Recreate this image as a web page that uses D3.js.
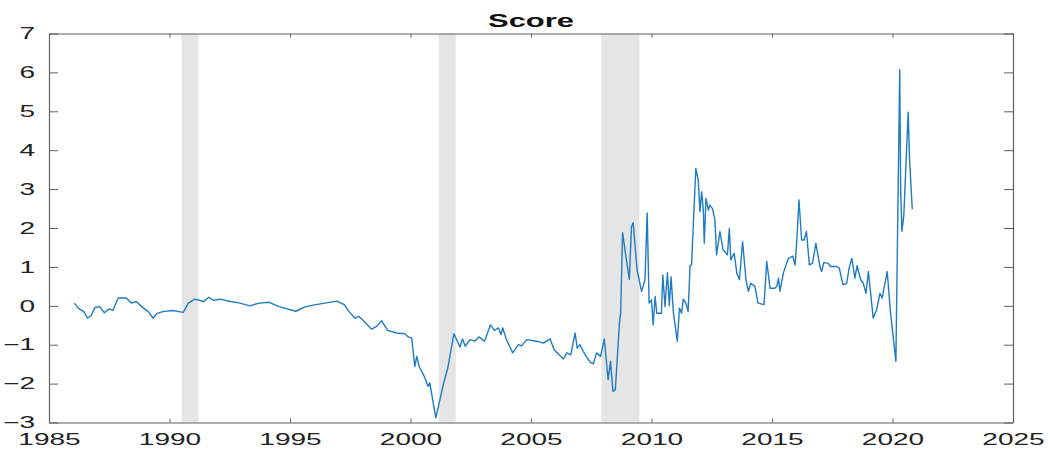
<!DOCTYPE html>
<html>
<head>
<meta charset="utf-8">
<script src="https://cdn.jsdelivr.net/npm/d3@7"></script>
<style>
  html, body { margin: 0; padding: 0; background: #fff; }
  svg { display: block; font-family: "Liberation Sans", Arial, sans-serif; }
</style>
</head>
<body>
<svg id="chart" width="1050" height="450"></svg>
<script>
// ---- data ------------------------------------------------------------------
const years = [
  1986.05, 1986.25, 1986.45, 1986.6, 1986.75, 1986.9, 1987.1, 1987.3, 1987.5, 1987.65,
  1987.87, 1988.2, 1988.42, 1988.62, 1988.92, 1989.12, 1989.32, 1989.47, 1989.72, 1990.12,
  1990.57, 1990.78, 1991.05, 1991.43, 1991.63, 1991.83, 1992.1, 1992.53, 1992.93, 1993.33,
  1993.73, 1994.14, 1994.54, 1995.24, 1995.64, 1996.25, 1996.95, 1997.05, 1997.25, 1997.45,
  1997.7, 1997.85, 1998.15, 1998.38, 1998.6, 1998.8, 1999.05, 1999.42, 1999.76, 1999.91,
  2000.05, 2000.18, 2000.26, 2000.36, 2000.56, 2000.73, 2000.8, 2001.05, 2001.36, 2001.56,
  2001.8, 2002.05, 2002.16, 2002.27, 2002.47, 2002.67, 2002.84, 2003.07, 2003.32, 2003.48,
  2003.65, 2003.75, 2003.83, 2003.98, 2004.24, 2004.48, 2004.61, 2004.82, 2005.24, 2005.52,
  2005.79, 2005.96, 2006.34, 2006.49, 2006.65, 2006.83, 2006.92, 2007.03, 2007.17, 2007.29,
  2007.45, 2007.59, 2007.72, 2007.89, 2008.04, 2008.2, 2008.3, 2008.4, 2008.5, 2008.67,
  2008.72, 2008.8, 2008.94, 2009.08, 2009.17, 2009.24, 2009.4, 2009.59, 2009.73, 2009.82,
  2009.9, 2010.0, 2010.07, 2010.15, 2010.22, 2010.41, 2010.47, 2010.56, 2010.66, 2010.74,
  2010.81, 2010.91, 2011.07, 2011.16, 2011.25, 2011.32, 2011.43, 2011.52, 2011.6, 2011.66,
  2011.84, 2011.94, 2012.01, 2012.08, 2012.15, 2012.19, 2012.26, 2012.36, 2012.42, 2012.53,
  2012.63, 2012.7, 2012.84, 2012.97, 2013.15, 2013.23, 2013.29, 2013.43, 2013.54, 2013.65,
  2013.78, 2013.92, 2014.02, 2014.12, 2014.29, 2014.42, 2014.67, 2014.78, 2014.92, 2015.12,
  2015.2, 2015.27, 2015.33, 2015.47, 2015.68, 2015.86, 2015.96, 2016.03, 2016.12, 2016.23,
  2016.33, 2016.43, 2016.55, 2016.68, 2016.82, 2016.99, 2017.06, 2017.15, 2017.33, 2017.43,
  2017.68, 2017.79, 2017.95, 2018.1, 2018.2, 2018.31, 2018.44, 2018.53, 2018.68, 2018.79,
  2018.9, 2019.0, 2019.2, 2019.34, 2019.48, 2019.57, 2019.78, 2019.92, 2020.14, 2020.3,
  2020.34, 2020.39, 2020.47, 2020.65, 2020.71, 2020.82
];
const score = [
  0.07, -0.08, -0.15, -0.32, -0.25, -0.05, -0.02, -0.18, -0.08, -0.12,
  0.2, 0.2, 0.07, 0.11, -0.06, -0.15, -0.32, -0.2, -0.15, -0.12,
  -0.17, 0.07, 0.17, 0.11, 0.22, 0.14, 0.17, 0.11, 0.07, 0.0,
  0.07, 0.09, -0.02, -0.14, -0.02, 0.05, 0.12, 0.09, 0.03, -0.15,
  -0.32, -0.27, -0.45, -0.6, -0.53, -0.38, -0.63, -0.7, -0.72, -0.8,
  -0.83, -1.56, -1.3, -1.56, -1.8, -2.07, -1.98, -2.88, -2.03, -1.56,
  -0.72, -1.06, -0.85, -1.04, -0.87, -0.91, -0.8, -0.91, -0.49, -0.63,
  -0.57, -0.74, -0.57, -0.87, -1.21, -1.0, -1.03, -0.87, -0.91, -0.96,
  -0.85, -1.13, -1.37, -1.21, -1.26, -0.7, -1.09, -1.0, -1.17, -1.3,
  -1.45, -1.49, -1.21, -1.3, -0.85, -1.9, -1.43, -2.2, -2.15, -0.44,
  -0.19, 1.88, 1.26, 0.68, 2.03, 2.14, 0.92, 0.37, 0.67, 2.39,
  0.07, 0.15, -0.49, 0.24, -0.19, -0.19, 0.79, -0.02, 0.85, 0.0,
  0.75, -0.19, -0.91, -0.06, -0.19, 0.17, 0.07, -0.15, 1.03, 1.05,
  3.53, 3.23, 2.42, 2.93, 2.46, 1.61, 2.76, 2.46, 2.59, 2.5,
  2.21, 1.31, 1.91, 1.44, 1.31, 1.99, 1.18, 1.35, 0.84, 0.67,
  1.65, 0.67, 0.37, 0.58, 0.5, 0.07, 0.03, 1.14, 0.45, 0.45,
  0.5, 0.71, 0.37, 0.84, 1.22, 1.28, 1.05, 1.69, 2.72, 1.69,
  1.69, 1.91, 1.05, 1.09, 1.61, 1.01, 0.88, 1.11, 1.09, 1.01,
  1.01, 0.97, 0.54, 0.58, 0.97, 1.22, 0.71, 1.03, 0.67, 0.58,
  0.32, 0.88, -0.32, -0.1, 0.32, 0.2, 0.88, -0.19, -1.43, 6.07,
  3.0, 1.91, 2.33, 4.98, 3.74, 2.48
];
// recession bands [start, end]
const recessions = [[1990.5, 1991.2], [2001.17, 2001.88], [2007.92, 2009.5]];
const xTicks = [1985, 1990, 1995, 2000, 2005, 2010, 2015, 2020, 2025];
const yTicks = [-3, -2, -1, 0, 1, 2, 3, 4, 5, 6, 7];
const title = 'Score';

// ---- layout ----------------------------------------------------------------
const plotL = 49, plotR = 1013, plotT = 33.5, plotB = 422.5;
const stretch = 1.72;   // the reference is squeezed wide, text included
const svg = d3.select('#chart');

const x = d3.scaleLinear().domain([1985, 2025]).range([plotL, plotR]);
const y = d3.scaleLinear().domain([-3, 7]).range([plotB, plotT]);

// shaded recessions
svg.append('g').selectAll('rect').data(recessions).join('rect')
  .attr('x', d => x(d[0]))
  .attr('width', d => x(d[1]) - x(d[0]))
  .attr('y', plotT)
  .attr('height', plotB - plotT)
  .attr('fill', '#e5e5e5');

// series line
const pts = years.map((t, i) => [t, score[i]]);
svg.append('path')
  .datum(pts)
  .attr('fill', 'none')
  .attr('stroke', '#1f7cc4')
  .attr('stroke-width', 1.4)
  .attr('stroke-linejoin', 'round')
  .attr('d', d3.line().x(d => x(d[0])).y(d => y(d[1])));

// ---- axes (box, inward ticks) ---------------------------------------------
function styleAxis(g) {
  g.selectAll('.domain').attr('stroke', '#5f5f5f').attr('stroke-width', 1.2);
  g.selectAll('.tick line').attr('stroke', '#5f5f5f').attr('stroke-width', 1);
  g.selectAll('.tick text').attr('fill', '#222').attr('font-size', 16.3)
    .attr('font-family', '"Liberation Sans", Arial, sans-serif');
}

const gx = svg.append('g').attr('transform', `translate(0,${plotB})`)
  .call(d3.axisBottom(x).tickValues(xTicks).tickFormat(d3.format('d'))
    .tickSize(-4).tickSizeOuter(0).tickPadding(10.5));
styleAxis(gx);
gx.selectAll('.tick text').attr('transform', `scale(${stretch},1)`);

const gy = svg.append('g').attr('transform', `translate(${plotL},0)`)
  .call(d3.axisLeft(y).tickValues(yTicks).tickSize(-9).tickSizeOuter(0));
styleAxis(gy);
gy.selectAll('.tick text')
  .attr('x', 0)
  .attr('transform', `translate(-14,0) scale(${stretch},1)`);

const gt = svg.append('g').attr('transform', `translate(0,${plotT})`)
  .call(d3.axisTop(x).tickValues(xTicks).tickFormat('').tickSize(-4).tickSizeOuter(0));
styleAxis(gt);

const gr = svg.append('g').attr('transform', `translate(${plotR},0)`)
  .call(d3.axisRight(y).tickValues(yTicks).tickFormat('').tickSize(-9).tickSizeOuter(0));
styleAxis(gr);

// title
svg.append('text')
  .attr('transform', `translate(${(plotL + plotR) / 2},27) scale(${stretch},1)`)
  .attr('text-anchor', 'middle')
  .attr('font-size', 18)
  .attr('font-weight', 'bold')
  .attr('fill', '#111')
  .text(title);
</script>
</body>
</html>
